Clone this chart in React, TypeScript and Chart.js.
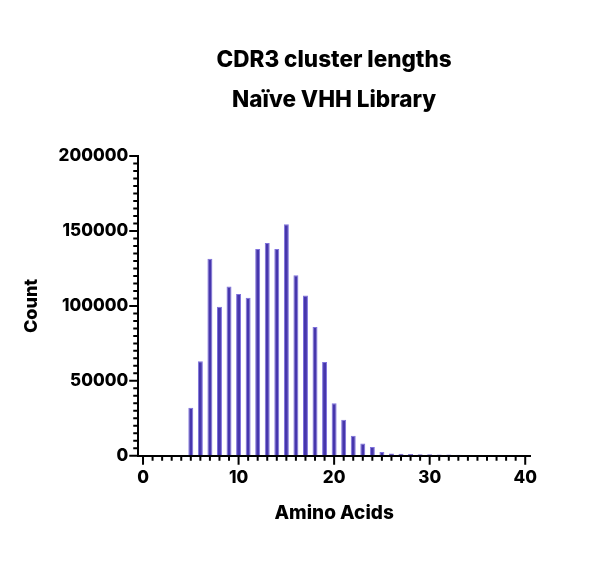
import { useEffect, useRef } from "react";
import { Chart, registerables, ChartConfiguration, Plugin } from "chart.js";

Chart.register(...registerables);

const lengths = [5, 6, 7, 8, 9, 10, 11, 12, 13, 14, 15, 16, 17, 18, 19, 20, 21, 22, 23, 24, 25, 26, 27, 28, 29, 30, 31, 32, 33];
const counts = [
	32000, 63000, 131500, 99500, 113000, 108000, 105500, 138000, 142000, 138000,
	154500, 120500, 107000, 86000, 62500, 35000, 24000, 13300, 8200, 5800,
	2500, 1600, 1400, 1200, 1100, 1000, 900, 800, 700,
];
const titleLines = ["CDR3 cluster lengths", "Naïve VHH Library"];

const FONT = "Inter, 'Noto Sans', sans-serif";

// draws major / minor tick marks on both axes
const tickMarks: Plugin<"bar"> = {
	id: "tickMarks",
	afterDraw(chart) {
		const { ctx, chartArea, scales } = chart;
		const x = scales.x;
		const y = scales.y;
		ctx.save();
		ctx.strokeStyle = "#000";
		ctx.lineWidth = 2;
		ctx.beginPath();
		for (let v = 0; v <= 40; v++) {
			const px = x.getPixelForValue(v);
			const len = v % 10 === 0 ? 9 : 5;
			ctx.moveTo(px, chartArea.bottom);
			ctx.lineTo(px, chartArea.bottom + len);
		}
		for (let v = 0; v <= 200000; v += 5000) {
			const py = y.getPixelForValue(v);
			const len = v % 50000 === 0 ? 9 : 5;
			ctx.moveTo(chartArea.left, py);
			ctx.lineTo(chartArea.left - len, py);
		}
		ctx.stroke();
		ctx.restore();
	},
};

// two-line title centred over the plot area
const centredTitle: Plugin<"bar"> = {
	id: "centredTitle",
	afterDraw(chart) {
		const { ctx, chartArea } = chart;
		const cx = (chartArea.left + chartArea.right) / 2;
		ctx.save();
		ctx.fillStyle = "#000";
		ctx.font = `800 22.5px ${FONT}`;
		ctx.textAlign = "center";
		ctx.textBaseline = "middle";
		titleLines.forEach((t, i) => ctx.fillText(t, cx, 52 + i * 40));
		ctx.restore();
	},
};

export const HistogramChart = () => {
	const chartRef = useRef<HTMLCanvasElement | null>(null);
	const myChartRef = useRef<Chart<"bar", { x: number; y: number }[]> | null>(null);

	useEffect(() => {
		if (!chartRef.current) return;
		const points = lengths.map((l, i) => ({ x: l, y: counts[i] }));

		const config: ChartConfiguration<"bar", { x: number; y: number }[]> = {
			type: "bar",
			data: {
				datasets: [
					{
						label: "Count",
						data: points,
						backgroundColor: "#4636ad",
						borderColor: "#7f72dd",
						borderWidth: 1,
						barPercentage: 0.52,
						categoryPercentage: 1,
					},
				],
			},
			options: {
				animation: false,
				responsive: true,
				maintainAspectRatio: false,
				layout: {
					padding: { left: 9, right: 55, top: 148, bottom: 35 },
				},
				scales: {
					x: {
						type: "linear",
						min: 0,
						max: 40,
						border: { display: true, color: "#000", width: 2 },
						grid: {
							drawOnChartArea: false,
							drawTicks: true,
							tickLength: 8,
							tickColor: "rgba(0,0,0,0)",
						},
						ticks: {
							stepSize: 1,
							autoSkip: false,
							maxRotation: 0,
							color: "#000",
							padding: 4,
							font: { family: FONT, size: 17, weight: 800 },
							callback: (v) => (Number(v) % 10 === 0 ? String(v) : ""),
						},
						title: {
							display: true,
							text: "Amino Acids",
							color: "#000",
							padding: { top: 10 },
							font: { family: FONT, size: 19, weight: 800 },
						},
					},
					y: {
						min: 0,
						max: 200000,
						border: { display: true, color: "#000", width: 2 },
						grid: {
							drawOnChartArea: false,
							drawTicks: true,
							tickLength: 8,
							tickColor: "rgba(0,0,0,0)",
						},
						ticks: {
							stepSize: 5000,
							autoSkip: false,
							color: "#000",
							padding: 2,
							font: { family: FONT, size: 17, weight: 800 },
							callback: (v) => (Number(v) % 50000 === 0 ? String(v) : ""),
						},
						title: {
							display: true,
							text: "Count",
							color: "#000",
							padding: { bottom: 14 },
							font: { family: FONT, size: 18, weight: 800 },
						},
					},
				},
				plugins: {
					legend: { display: false },
					tooltip: { enabled: false },
					title: { display: false },
				},
			},
			plugins: [tickMarks, centredTitle],
		};

		myChartRef.current = new Chart(chartRef.current, config);
		return () => {
			myChartRef.current?.destroy();
		};
	}, []);

	return (
		<div style={{ position: "relative", width: 577, height: 556 }}>
			<canvas ref={chartRef}></canvas>
		</div>
	);
};

export default function App() {
	return <HistogramChart />;
}
